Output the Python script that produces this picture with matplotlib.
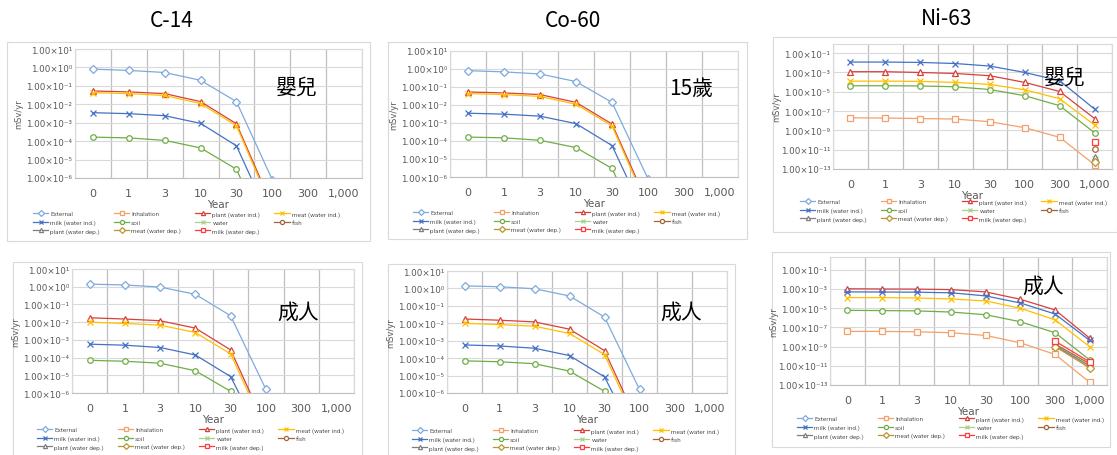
import numpy as np
import matplotlib
matplotlib.use("Agg")
import matplotlib.pyplot as plt
from matplotlib.lines import Line2D
from matplotlib.patches import Rectangle
from matplotlib.ticker import FixedLocator, FuncFormatter

W, H = 1117, 456
nan = np.nan

years = ["0", "1", "3", "10", "30", "100", "300", "1,000"]
series_names = ["External", "Inhalation", "plant (water ind.)", "meat (water ind.)",
                "milk (water ind.)", "soil", "water", "fish",
                "plant (water dep.)", "meat (water dep.)", "milk (water dep.)"]
series_colors = ["#7FAADD", "#F4A06A", "#D8403C", "#FFC000", "#4472C4", "#70AD47",
                 "#A9D18E", "#A5653A", "#7F7F7F", "#B8962E", "#FF3B3B"]
series_markers = ["D", "s", "^", "x", "x", "o", "x", "o", "^", "D", "s"]
hollow = ["D", "s", "^", "o"]

# C-14 / Co-60, infant (the two top-left charts show the same values)
inf_external = [0.81, 0.69, 0.53, 0.20, 1.4e-2, 8e-7, nan, nan]
inf_plant = [0.053, 0.047, 0.038, 0.014, 8.8e-4, 3e-8, nan, nan]
inf_meat = [0.043, 0.038, 0.030, 0.011, 6.9e-4, 2e-8, nan, nan]
inf_milk = [3.5e-3, 3.1e-3, 2.4e-3, 9.2e-4, 5.6e-5, 3e-9, nan, nan]
inf_soil = [1.65e-4, 1.5e-4, 1.1e-4, 4.3e-5, 3e-6, 1.5e-10, nan, nan]

# C-14 / Co-60, adult
adu_external = [1.4, 1.25, 0.96, 0.37, 2.3e-2, 1.6e-6, nan, nan]
adu_plant = [1.76e-2, 1.5e-2, 1.2e-2, 4.6e-3, 2.7e-4, 1.2e-8, nan, nan]
adu_meat = [1.0e-2, 8.4e-3, 6.8e-3, 2.6e-3, 1.6e-4, 7e-9, nan, nan]
adu_milk = [5.7e-4, 5.0e-4, 3.7e-4, 1.4e-4, 8.4e-6, 1e-9, nan, nan]
adu_soil = [7e-5, 6.2e-5, 4.8e-5, 1.8e-5, 1.25e-6, 6e-11, nan, nan]

# Ni-63, infant
ni_inf_inhal = [2e-8, 1.9e-8, 1.7e-8, 1.5e-8, 7.9e-9, 1.9e-9, 1.9e-10, 2.8e-13]
ni_inf_plant = [1.2e-3, 1.2e-3, 1.0e-3, 7.9e-4, 4.6e-4, 9.3e-5, 1.07e-5, 1.7e-8]
ni_inf_meat = [1.26e-4, 1.26e-4, 1.2e-4, 9.3e-5, 5.8e-5, 1.6e-5, 1.9e-6, 3.6e-9]
ni_inf_milk = [1.2e-2, 1.2e-2, 1.1e-2, 8.5e-3, 4.6e-3, 1.0e-3, 1.4e-4, 1.6e-7]
ni_inf_soil = [4.2e-5, 4.2e-5, 4.0e-5, 3.3e-5, 1.7e-5, 3.9e-6, 3.6e-7, 5.7e-10]
ni_inf_water = [nan] * 7 + [1e-12]
ni_inf_fish = [nan] * 7 + [1.2e-11]
ni_inf_plant_dep = [nan] * 7 + [1.9e-12]
ni_inf_meat_dep = [nan] * 7 + [5e-13]
ni_inf_milk_dep = [nan] * 7 + [5.8e-11]

# Ni-63, adult
ni_adu_inhal = [3.7e-8, 3.7e-8, 3.4e-8, 2.7e-8, 1.4e-8, 2.4e-9, 1.5e-10, 1.9e-13]
ni_adu_plant = [1.0e-3, 9.5e-4, 9.2e-4, 8.2e-4, 4.7e-4, 8e-5, 6.3e-6, 7.4e-9]
ni_adu_meat = [1.2e-4, 1.2e-4, 1.1e-4, 8.7e-5, 5.4e-5, 9.3e-6, 6e-7, 9.3e-10]
ni_adu_milk = [4.7e-4, 4.6e-4, 4.4e-4, 3.8e-4, 1.8e-4, 3.3e-5, 2.4e-6, 4.3e-9]
ni_adu_soil = [5.7e-6, 5.4e-6, 5.0e-6, 3.8e-6, 2.0e-6, 3.7e-7, 2.7e-8, 4e-11]
ni_adu_water = [nan] * 6 + [1.4e-9, 8e-12]
ni_adu_fish = [nan] * 6 + [1.8e-9, 1.6e-11]
ni_adu_plant_dep = [nan] * 6 + [1.2e-9, 1e-11]
ni_adu_meat_dep = [nan] * 6 + [1.0e-9, 6e-12]
ni_adu_milk_dep = [nan] * 6 + [3.6e-9, 2.5e-11]

infant_sets = {"External": inf_external, "plant (water ind.)": inf_plant,
               "meat (water ind.)": inf_meat, "milk (water ind.)": inf_milk, "soil": inf_soil}
adult_sets = {"External": adu_external, "plant (water ind.)": adu_plant,
              "meat (water ind.)": adu_meat, "milk (water ind.)": adu_milk, "soil": adu_soil}
ni_infant_sets = {"Inhalation": ni_inf_inhal, "plant (water ind.)": ni_inf_plant,
                  "meat (water ind.)": ni_inf_meat, "milk (water ind.)": ni_inf_milk,
                  "soil": ni_inf_soil, "water": ni_inf_water, "fish": ni_inf_fish,
                  "plant (water dep.)": ni_inf_plant_dep, "meat (water dep.)": ni_inf_meat_dep,
                  "milk (water dep.)": ni_inf_milk_dep}
ni_adult_sets = {"Inhalation": ni_adu_inhal, "plant (water ind.)": ni_adu_plant,
                 "meat (water ind.)": ni_adu_meat, "milk (water ind.)": ni_adu_milk,
                 "soil": ni_adu_soil, "water": ni_adu_water, "fish": ni_adu_fish,
                 "plant (water dep.)": ni_adu_plant_dep, "meat (water dep.)": ni_adu_meat_dep,
                 "milk (water dep.)": ni_adu_milk_dep}

CJK = ["Noto Sans CJK TC", "DejaVu Sans"]
TXT = "#595959"
SUP = str.maketrans("-0123456789", "⁻⁰¹²³⁴⁵⁶⁷⁸⁹")

fig = plt.figure(figsize=(W / 100, H / 100), dpi=100)


def fbox(x0, y0, x1, y1):
    # pixel box -> figure fraction [left, bottom, width, height]
    return [x0 / W, 1 - y1 / H, (x1 - x0) / W, (y1 - y0) / H]


def style(name, ms=4):
    i = series_names.index(name)
    m = series_markers[i]
    face = "white" if m in hollow else series_colors[i]
    return dict(color=series_colors[i], marker=m, markersize=ms, markerfacecolor=face,
                markeredgecolor=series_colors[i], markeredgewidth=0.9, linewidth=0.9)


def panel(frame, plot, sets, ylim, decades, tag, tag_xy, legend_xy):
    fig.add_artist(Rectangle((frame[0] / W, 1 - frame[3] / H), (frame[2] - frame[0]) / W,
                             (frame[3] - frame[1]) / H, transform=fig.transFigure,
                             facecolor="white", edgecolor="#D9D9D9", linewidth=0.8, zorder=0))
    ax = fig.add_axes(fbox(*plot))
    ax.set_facecolor("none")
    x = np.arange(len(years))
    for name, vals in sets.items():
        ax.plot(x, vals, **style(name))
    ax.set_yscale("log")
    ax.set_ylim(*ylim)
    ax.set_xlim(-0.5, len(years) - 0.5)
    ax.yaxis.set_major_locator(FixedLocator([10.0 ** d for d in decades]))
    ax.yaxis.set_minor_locator(FixedLocator([]))
    ax.yaxis.set_major_formatter(FuncFormatter(
        lambda v, p: "1.00×10" + str(int(round(np.log10(v)))).translate(SUP)))
    ax.set_xticks(x)
    ax.set_xticklabels(years)
    ax.set_xticks(np.arange(len(years) + 1) - 0.5, minor=True)
    ax.grid(True, which="major", axis="y", color="#D9D9D9", linewidth=0.8)
    ax.grid(True, which="minor", axis="x", color="#BFBFBF", linewidth=0.9)
    ax.tick_params(which="both", length=0)
    ax.tick_params(axis="y", labelsize=6.3, labelcolor=TXT, pad=2)
    ax.tick_params(axis="x", labelsize=8, labelcolor=TXT, pad=7)
    for s in ax.spines.values():
        s.set_color("#D9D9D9")
        s.set_linewidth(0.8)
    ax.spines["bottom"].set_color("#BFBFBF")
    ax.set_xlabel("Year", fontsize=7.5, color=TXT, labelpad=1)
    ax.set_ylabel("mSv/yr", fontsize=6, color=TXT)
    ax.yaxis.set_label_coords(-52 / (plot[2] - plot[0]), 0.5)
    fig.text(tag_xy[0] / W, 1 - tag_xy[1] / H, tag, family=CJK, fontsize=15,
             ha="center", va="center")
    handles = [Line2D([], [], **style(n, ms=3)) for n in series_names]
    order = [0, 4, 8, 1, 5, 9, 2, 6, 10, 3, 7]
    fig.legend([handles[i] for i in order], [series_names[i] for i in order],
               loc="upper left", bbox_to_anchor=(legend_xy[0] / W, 1 - legend_xy[1] / H),
               ncol=4, prop={"family": "Roboto", "size": 4.6}, frameon=False,
               handlelength=2.4, handletextpad=0.3, columnspacing=2.2, labelspacing=0.45,
               borderpad=0, borderaxespad=0, labelcolor=TXT)
    return ax


top6 = (1e-6, 1e1)
dec6 = range(-6, 2)
panel((7, 43, 370, 242), (75, 50, 362, 179), infant_sets, top6, dec6, "嬰兒", (297, 88), (33, 212))
panel((388, 43, 747, 240), (450, 52, 738, 178), infant_sets, top6, dec6, "15歲", (691, 89), (413, 211))
panel((773, 38, 1117, 233), (833, 45, 1112, 170), ni_infant_sets, (1e-13, 10 ** -0.05),
      range(-13, 0, 2), "嬰兒", (1065, 78), (800, 200))
panel((13, 263, 362, 470), (72, 270, 354, 394), adult_sets, top6, dec6, "成人", (298, 313), (37, 428))
panel((388, 265, 735, 470), (447, 272, 727, 394), adult_sets, top6, dec6, "成人", (681, 313), (412, 429))
panel((772, 253, 1110, 448), (830, 258, 1107, 386), ni_adult_sets, (1e-13, 10 ** 0.3),
      range(-13, 0, 2), "成人", (1043, 287), (797, 417))

for label, cx, cy in [("C-14", 172, 21), ("Co-60", 573, 21), ("Ni-63", 947, 19)]:
    fig.text(cx / W, 1 - cy / H, label, family=CJK, fontsize=15, ha="center", va="center")

fig.savefig("out.png", dpi=100)
